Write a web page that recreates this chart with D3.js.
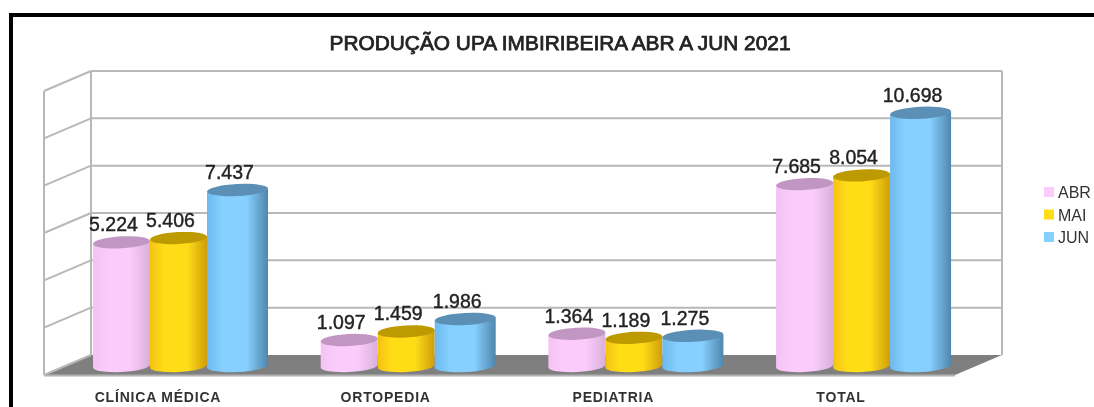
<!DOCTYPE html>
<html>
<head>
<meta charset="utf-8">
<title>Produção UPA Imbiribeira</title>
<script src="https://cdn.jsdelivr.net/npm/d3@7/dist/d3.min.js"></script>
<style>
html, body { margin: 0; padding: 0; background: #fff; }
svg { display: block; font-family: "Liberation Sans", Arial, sans-serif; }
</style>
</head>
<body>
<div class="container"></div>
<script>
const WIDTH = 1094
	, HEIGHT = 407
	, WALL_LEFT = 91
	, WALL_RIGHT = 1002
	, WALL_TOP = 71
	, WALL_BOTTOM = 355
	, DEPTH_X = 47
	, DEPTH_Y = 20
	, BAR_DROP = 11;

const categories = ['CLÍNICA MÉDICA', 'ORTOPEDIA', 'PEDIATRIA', 'TOTAL'];
const seriesNames = ['ABR', 'MAI', 'JUN'];
const abr = [5224, 1097, 1364, 7685];
const mai = [5406, 1459, 1189, 8054];
const jun = [7437, 1986, 1275, 10698];
const yTicks = [0, 2000, 4000, 6000, 8000, 10000, 12000];
const seriesColors = ['#fbccfb', '#ffdd18', '#86d0ff'];
const leftColors = ['#f3c2f3', '#f4c310', '#6db9ee'];
const edgeColors = ['#d9b0d9', '#cf9d08', '#4f86ad'];
const topColors = ['#c296c2', '#bd9a06', '#5b8fb5'];

const seriesValues = [abr, mai, jun];

const translate = function (x, y) {
	return 'translate(' + x + ',' + y + ')';
};

const ptBr = d3.formatLocale({ decimal: ',', thousands: '.', grouping: [3], currency: ['R$', ''] });
const labelFormat = ptBr.format(',d');

const svg = d3.select('.container').append('svg')
	.attr('width', WIDTH)
	.attr('height', HEIGHT);

const defs = svg.append('defs');
defs.append('filter').attr('id', 'soft')
	.attr('x', '-2%').attr('y', '-2%').attr('width', '104%').attr('height', '104%')
	.append('feGaussianBlur').attr('stdDeviation', 0.65);

seriesNames.forEach(function (name, i) {
	const grad = defs.append('linearGradient').attr('id', 'cyl' + i)
		.attr('x1', 0).attr('x2', 1).attr('y1', 0).attr('y2', 0);
	grad.append('stop').attr('offset', '0%').attr('stop-color', leftColors[i]);
	grad.append('stop').attr('offset', '25%').attr('stop-color', seriesColors[i]);
	grad.append('stop').attr('offset', '65%').attr('stop-color', seriesColors[i]);
	grad.append('stop').attr('offset', '100%').attr('stop-color', edgeColors[i]);
});

const root = svg.append('g').attr('filter', 'url(#soft)');

// frame, only top and left are in the crop
root.append('path')
	.attr('d', 'M11,' + (HEIGHT + 5) + 'V15H' + (WIDTH + 5))
	.attr('fill', 'none')
	.attr('stroke', '#000')
	.attr('stroke-width', 4);

root.append('text')
	.attr('x', 560)
	.attr('y', 50)
	.attr('text-anchor', 'middle')
	.attr('font-size', 19.5)
	.attr('fill', '#222')
	.attr('stroke', '#222')
	.attr('stroke-width', 0.75)
	.attr('textLength', 461)
	.attr('lengthAdjust', 'spacingAndGlyphs')
	.text('PRODUÇÃO UPA IMBIRIBEIRA ABR A JUN 2021');

const xScale = d3.scaleBand()
	.domain(categories)
	.range([92, 951])
	.paddingInner(0.2274);
// the blue cylinder is drawn a bit wider than the other two
const innerScale = d3.scaleOrdinal().domain(seriesNames).range([1, 58, 115]);
const widthScale = d3.scaleOrdinal().domain(seriesNames).range([57, 57, 61]);
const yScale = d3.scaleLinear()
	.domain([0, 12000])
	.range([WALL_BOTTOM, WALL_TOP]);

// floor
root.append('path')
	.attr('d', d3.line()([
		[WALL_LEFT, WALL_BOTTOM],
		[WALL_RIGHT, WALL_BOTTOM],
		[WALL_RIGHT - DEPTH_X, WALL_BOTTOM + DEPTH_Y],
		[WALL_LEFT - DEPTH_X, WALL_BOTTOM + DEPTH_Y]
	]) + 'Z')
	.attr('fill', '#7f7f7f');
root.append('line')
	.attr('x1', WALL_LEFT - DEPTH_X).attr('x2', WALL_RIGHT - DEPTH_X)
	.attr('y1', WALL_BOTTOM + DEPTH_Y + 0.5).attr('y2', WALL_BOTTOM + DEPTH_Y + 0.5)
	.attr('stroke', '#b3b3b3').attr('stroke-width', 2);

// grid on back wall and side wall
const grid = root.append('g').attr('stroke', '#b8b8b8').attr('stroke-width', 2).attr('fill', 'none');
grid.selectAll('.back').data(yTicks.slice(1)).enter().append('line')
	.attr('x1', WALL_LEFT).attr('x2', WALL_RIGHT)
	.attr('y1', function (d) { return yScale(d); })
	.attr('y2', function (d) { return yScale(d); });
grid.selectAll('.side').data(yTicks).enter().append('line')
	.attr('x1', WALL_LEFT - DEPTH_X).attr('x2', WALL_LEFT)
	.attr('y1', function (d) { return yScale(d) + DEPTH_Y; })
	.attr('y2', function (d) { return yScale(d); });
[WALL_LEFT - DEPTH_X, WALL_LEFT, WALL_RIGHT].forEach(function (x) {
	const off = x === WALL_LEFT - DEPTH_X ? DEPTH_Y : 0;
	grid.append('line')
		.attr('x1', x).attr('x2', x)
		.attr('y1', WALL_TOP + off).attr('y2', WALL_BOTTOM + off);
});

// cylinders
const RY = 6;
const TILT = -3;
const bars = root.append('g');
categories.forEach(function (category, c) {
	seriesNames.forEach(function (name, s) {
		const value = seriesValues[s][c];
		const x0 = xScale(category) + innerScale(name);
		const w = widthScale(name);
		const rx = w / 2;
		const cx = x0 + rx;
		const top = yScale(value) + BAR_DROP;
		const bottom = yScale(0) + BAR_DROP;
		const rise = Math.tan(-TILT * Math.PI / 180) * rx;
		const g = bars.append('g');
		g.append('path')
			.attr('d', 'M' + x0 + ',' + (top + rise)
				+ 'L' + x0 + ',' + (bottom + rise)
				+ 'A' + rx + ',' + RY + ' ' + TILT + ' 0 0 ' + (x0 + w) + ',' + (bottom - rise)
				+ 'L' + (x0 + w) + ',' + (top - rise) + 'Z')
			.attr('fill', 'url(#cyl' + s + ')');
		g.append('ellipse')
			.attr('cx', cx).attr('cy', top)
			.attr('rx', rx).attr('ry', RY)
			.attr('transform', 'rotate(' + TILT + ' ' + cx + ' ' + top + ')')
			.attr('fill', topColors[s]);
	});
});

// value labels
const labels = root.append('g')
	.attr('font-size', 19.5)
	.attr('fill', '#222')
	.attr('stroke', '#222')
	.attr('stroke-width', 0.4)
	.attr('text-anchor', 'middle');
categories.forEach(function (category, c) {
	seriesNames.forEach(function (name, s) {
		const value = seriesValues[s][c];
		labels.append('text')
			.attr('x', xScale(category) + innerScale(name) + widthScale(name) / 2 - 8)
			.attr('y', yScale(value) + BAR_DROP - 11)
			.text(labelFormat(value));
	});
});

// category axis
const xAxis = d3.axisBottom(xScale).tickSize(0).tickPadding(0);
const axisG = root.append('g')
	.attr('transform', translate(-22, 392))
	.call(xAxis);
axisG.select('.domain').remove();
axisG.selectAll('text')
	.attr('font-family', '"Liberation Sans", Arial, sans-serif')
	.attr('font-size', 14)
	.attr('font-weight', 'bold')
	.attr('letter-spacing', 0.8)
	.attr('fill', '#333');

// legend
const legendY = d3.scalePoint().domain(seriesNames).range([192, 237]);
const legend = root.append('g');
seriesNames.forEach(function (name, i) {
	legend.append('rect')
		.attr('x', 1044).attr('y', legendY(name) - 5)
		.attr('width', 10).attr('height', 10)
		.attr('fill', seriesColors[i]);
	legend.append('text')
		.attr('x', 1058).attr('y', legendY(name) + 6)
		.attr('font-size', 16)
		.attr('fill', '#333')
		.text(name);
});
</script>
</body>
</html>
